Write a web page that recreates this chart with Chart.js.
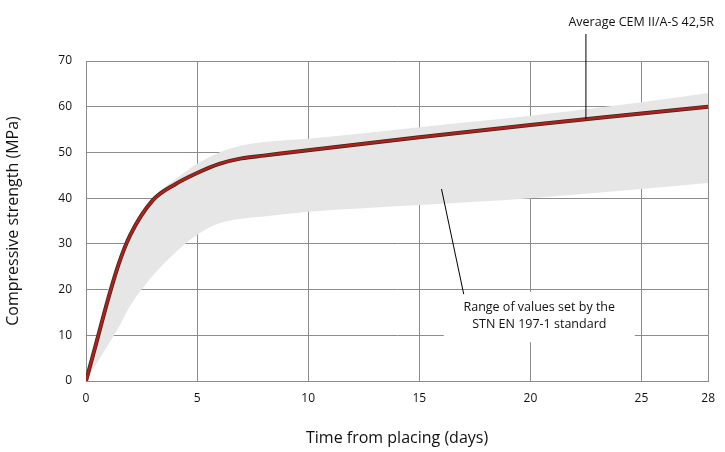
<!DOCTYPE html><html><head><script src="https://cdn.jsdelivr.net/npm/chart.js@4"></script>
<style>html,body{margin:0;background:#fff}#w{width:725px;height:452px}</style></head><body><div id="w"><canvas id="c"></canvas></div>
<script>
const days=[0,0.5,1,1.5,2,3,4,5,6,7,8,10,15,20,25,28];
const average=[0,9,18,26,32,39.5,43,45.5,47.5,48.7,49.3,50.5,53.3,56,58.5,60];
const upper=[0,10,20,27,33,40,44,47.5,50,51.5,52.3,53,55.5,58,61,63];
const lower=[0,4,8,12,16.5,23,28,32,34.5,35.5,36,37,38.5,40,42,43.3];
const xTicks=[0,5,10,15,20,25,28];
const yTicks=[0,10,20,30,40,50,60,70];
const pts=a=>days.map((d,i)=>({x:d,y:a[i]}));
const F='"Open Sans", sans-serif';
const notes={
 id:'notes',
 afterDraw(ch){
  const c=ch.ctx,x=ch.scales.x,y=ch.scales.y;
  c.save();
  c.strokeStyle='#000';c.lineWidth=1;
  c.beginPath();c.moveTo(x.getPixelForValue(22.5),34);c.lineTo(x.getPixelForValue(22.5),y.getPixelForValue(57.3));c.stroke();
  c.font='12.5px '+F;c.fillStyle='#111';c.textAlign='right';c.textBaseline='middle';
  c.fillText('Average CEM II/A-S 42,5R',714,22);
  const bx=x.getPixelForValue(16.1),bx2=x.getPixelForValue(24.7),by=y.getPixelForValue(19.5),by2=y.getPixelForValue(8.5);
  c.fillStyle='#fff';c.fillRect(bx,by,bx2-bx,by2-by);
  c.beginPath();c.moveTo(x.getPixelForValue(16),y.getPixelForValue(42));c.lineTo(x.getPixelForValue(17),y.getPixelForValue(19));c.stroke();
  c.fillStyle='#111';c.textAlign='center';
  const cx=(bx+bx2)/2;
  c.fillText('Range of values set by the',cx,by+16);
  c.fillText('STN EN 197-1 standard',cx,by+33);
  c.restore();
 }};
const common={pointRadius:0,tension:0.4,cubicInterpolationMode:'monotone'};
new Chart(document.getElementById('c'),{
 type:'line',
 data:{datasets:[
  {...common,data:pts(upper),borderWidth:0,fill:'+1',backgroundColor:'#e6e6e6',order:3},
  {...common,data:pts(lower),borderWidth:0,fill:false,order:3},
  {...common,data:pts(average),borderColor:'#3a2a1a',borderWidth:4,fill:false,order:2},
  {...common,data:pts(average),borderColor:'#b01e1e',borderWidth:2.5,fill:false,order:1}
 ]},
 options:{responsive:true,maintainAspectRatio:false,animation:false,
  layout:{padding:{top:61,right:11,left:0,bottom:0}},
  plugins:{legend:{display:false},tooltip:{enabled:false}},
  scales:{
   x:{type:'linear',min:0,max:28,afterBuildTicks:s=>{s.ticks=xTicks.map(v=>({value:v}))},
    afterFit:s=>{s.height=71},
    grid:{color:'#8c8c8c',drawTicks:false},border:{color:'#8c8c8c'},
    ticks:{color:'#111',font:{family:F,size:12},padding:10},
    title:{display:true,text:'Time from placing (days)',color:'#111',font:{family:F,size:16},padding:{top:12}}},
   y:{min:0,max:70,afterBuildTicks:s=>{s.ticks=yTicks.map(v=>({value:v}))},
    afterFit:s=>{s.width=86},
    grid:{color:'#8c8c8c',drawTicks:false},border:{color:'#8c8c8c'},
    ticks:{color:'#111',font:{family:F,size:12},padding:14},
    title:{display:true,text:'Compressive strength (MPa)',color:'#111',font:{family:F,size:16},padding:{bottom:4}}}
  }},
 plugins:[notes]
});
</script></body></html>
